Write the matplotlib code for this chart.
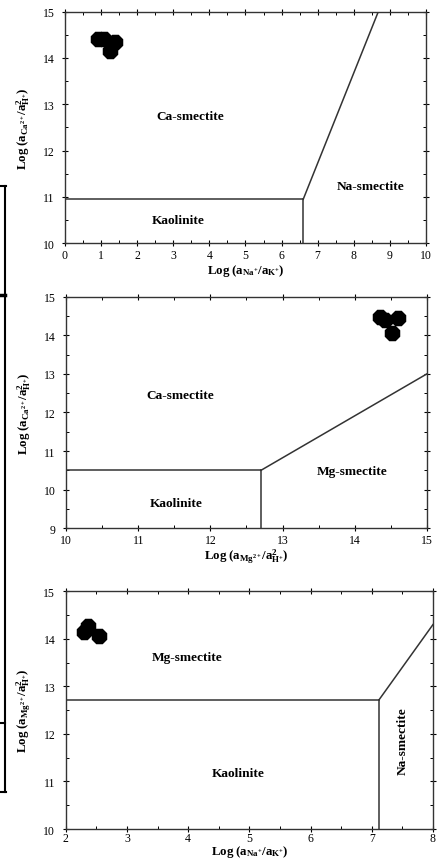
import numpy as np
import matplotlib
matplotlib.use("Agg")
import matplotlib.pyplot as plt
from matplotlib.lines import Line2D
from matplotlib.ticker import MultipleLocator

plt.rcParams['font.family'] = ['Liberation Serif', 'DejaVu Serif']
plt.rcParams['mathtext.fontset'] = 'custom'
plt.rcParams['mathtext.rm'] = 'Liberation Serif'
plt.rcParams['mathtext.bf'] = 'Liberation Serif:bold'
plt.rcParams['mathtext.it'] = 'Liberation Serif:italic'

# panel 1: Ca vs Na/K
p1_x = [0.92, 1.08, 1.38, 1.25]
p1_y = [14.42, 14.42, 14.35, 14.16]
p1_diag_x = [6.6, 8.68]
p1_diag_y = [10.95, 15]

# panel 2: Ca vs Mg
p2_x = [14.35, 14.42, 14.6, 14.52]
p2_y = [14.48, 14.40, 14.45, 14.07]
p2_diag_x = [12.7, 15]
p2_diag_y = [10.5, 13.0]

# panel 3: Mg vs Na/K
p3_x = [2.3, 2.37, 2.55]
p3_y = [14.15, 14.28, 14.05]
p3_diag_x = [7.12, 8]
p3_diag_y = [12.72, 14.3]

fig = plt.figure(figsize=(4.37, 8.62), dpi=100)

ax1 = fig.add_axes([0.1487, 0.7166, 0.826, 0.2687])
ax2 = fig.add_axes([0.151, 0.3860, 0.826, 0.2687])
ax3 = fig.add_axes([0.1503, 0.0371, 0.8405, 0.2758])

octagon = (8, 0, 22.5)


def style(ax, xlim, ylim, xlabel, ylabel, xpad=1.5, lpad=1):
    ax.set_xlim(*xlim)
    ax.set_ylim(*ylim)
    ax.xaxis.set_major_locator(MultipleLocator(1))
    ax.yaxis.set_major_locator(MultipleLocator(1))
    ax.xaxis.set_minor_locator(MultipleLocator(0.5))
    ax.yaxis.set_minor_locator(MultipleLocator(0.5))
    ax.tick_params(which='major', direction='inout', length=5, width=0.8,
                   top=True, right=True, labelsize=8.5)
    ax.tick_params(axis='y', which='major', pad=5)
    ax.tick_params(axis='x', which='major', pad=xpad)
    ax.tick_params(which='minor', direction='in', length=2.5, width=0.7,
                   top=True, right=True)
    for s in ax.spines.values():
        s.set_linewidth(1.0)
        s.set_color('#333333')
    ax.set_xlabel(xlabel, fontsize=9.3, fontweight='bold', labelpad=lpad)
    ax.set_ylabel(ylabel, fontsize=9.3, fontweight='bold', labelpad=7)


lab_ca = r'$\mathbf{Log\ (a_{Ca^{2+}}/a^{2}_{H^{+}})}$'
lab_mg = r'$\mathbf{Log\ (a_{Mg^{2+}}/a^{2}_{H^{+}})}$'
lab_nak = r'$\mathbf{Log\ (a_{Na^{+}}/a_{K^{+}})}$'

lc = '#333333'
tk = dict(fontsize=9.6, fontweight='bold', ha='center', va='center')
ms = 11

# panel 1
ax1.plot([0, 6.6], [10.95, 10.95], color=lc, lw=1.1)
ax1.plot([6.6, 6.6], [10, 10.95], color=lc, lw=1.1)
ax1.plot(p1_diag_x, p1_diag_y, color=lc, lw=1.1)
ax1.plot(p1_x, p1_y, linestyle='none', marker=octagon, ms=ms, color='black')
ax1.text(3.46, 12.75, 'Ca-smectite', **tk)
ax1.text(8.48, 11.23, 'Na-smectite', **tk)
ax1.text(3.14, 10.5, 'Kaolinite', **tk)
style(ax1, (0, 10), (10, 15), lab_nak, lab_ca)

# panel 2
ax2.plot([10, 12.7], [10.5, 10.5], color=lc, lw=1.1)
ax2.plot([12.7, 12.7], [9, 10.5], color=lc, lw=1.1)
ax2.plot(p2_diag_x, p2_diag_y, color=lc, lw=1.1)
ax2.plot(p2_x, p2_y, linestyle='none', marker=octagon, ms=ms, color='black')
ax2.text(11.58, 12.44, 'Ca-smectite', **tk)
ax2.text(13.96, 10.48, 'Mg-smectite', **tk)
ax2.text(11.52, 9.65, 'Kaolinite', **tk)
style(ax2, (10, 15), (9, 15), lab_mg, lab_ca)

# panel 3
ax3.plot([2, 7.12], [12.72, 12.72], color=lc, lw=1.1)
ax3.plot([7.12, 7.12], [10, 12.72], color=lc, lw=1.1)
ax3.plot(p3_diag_x, p3_diag_y, color=lc, lw=1.1)
ax3.plot(p3_x, p3_y, linestyle='none', marker=octagon, ms=ms, color='black')
ax3.text(3.98, 13.61, 'Mg-smectite', **tk)
ax3.text(4.82, 11.17, 'Kaolinite', **tk)
ax3.text(7.5, 11.86, 'Na-smectite', rotation=90, **tk)
style(ax3, (2, 8), (10, 15), lab_nak, lab_mg, xpad=0, lpad=-1)

# frame edge of the neighbouring figure on the left
W, H = 437.0, 862.0
def fl(xs, ys, lw=1.5):
    fig.add_artist(Line2D([x / W for x in xs], [1 - y / H for y in ys],
                          color='black', lw=lw, transform=fig.transFigure))

fl([0, 6], [187, 187])
fl([5, 5], [187, 793])
fl([0, 5], [296, 296], lw=2.5)
fl([0, 5], [724, 724])
fl([0, 6], [793, 793])

fig.savefig('out.png', dpi=100)
